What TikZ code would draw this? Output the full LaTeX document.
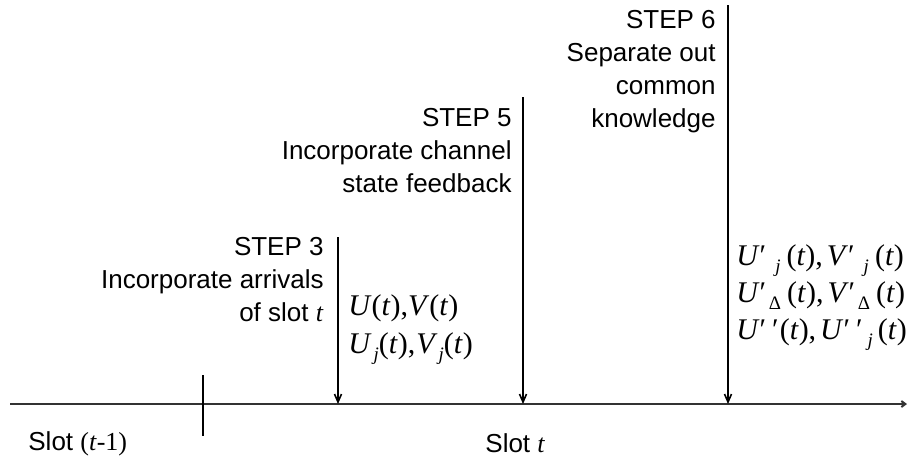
\documentclass[tikz,border=0pt]{standalone}
\usepackage{fontspec}
\setmainfont{Liberation Sans}
\newfontfamily\mathserif{Liberation Serif}
\usetikzlibrary{arrows.meta}
% italic variable letter
\newcommand\vi[1]{\textit{#1}}
% lowered small index
\newcommand\lowsub[1]{\raisebox{-0.5ex}{\fontsize{9.5}{9.5}\selectfont #1}}
\newcommand\pr{′}
\begin{document}
\begin{tikzpicture}[x=0.5pt,y=-0.5pt,
  steptext/.style={anchor=north east, inner sep=0pt, align=right,
    font=\fontsize{13}{16.5}\selectfont},
  vartext/.style={anchor=north west, inner sep=0pt, align=left,
    font=\mathserif\fontsize{15}{18.5}\selectfont},
  slotlabel/.style={anchor=base west, inner sep=0pt,
    font=\fontsize{13}{16}\selectfont},
  steparrow/.style={line width=0.8pt, -{Straight Barb[length=4pt,width=3.5pt]}},
  timeline/.style={line width=1pt, draw=black!80, -{Straight Barb[length=2pt,width=3pt]}},
  boundary/.style={line width=1pt}]
\path[use as bounding box] (0,0) rectangle (908,463);

% time axis and slot boundary
\coordinate (ax0) at (10,404);
\coordinate (ax1) at (907,404);
\draw[timeline] (ax0) -- (ax1);
\coordinate (bd0) at (203,375);
\coordinate (bd1) at (203,436);
\draw[boundary] (bd0) -- (bd1);

% slot labels
\node[slotlabel] (slotprev) at (28,450) {Slot {\mathserif(\vi{t}-1)}};
\node[slotlabel] (slotcur) at (485,452) {Slot {\mathserif\vi{t}}};

% step arrows
\coordinate (s3top) at (338,237);
\coordinate (s3end) at (338,404);
\coordinate (s5top) at (523,97);
\coordinate (s5end) at (523,404);
\coordinate (s6top) at (728,5);
\coordinate (s6end) at (728,404);
\draw[steparrow] (s3top) -- (s3end);
\draw[steparrow] (s5top) -- (s5end);
\draw[steparrow] (s6top) -- (s6end);

% step descriptions
\node[steptext] (step3) at (324,237)
  {STEP 3\\Incorporate arrivals\\of slot {\mathserif\vi{t}}};
\node[steptext] (step5) at (512,108)
  {STEP 5\\Incorporate channel\\state feedback};
\node[steptext] (step6) at (716,10)
  {STEP 6\\Separate out\\common\\knowledge};

% quantities updated at each step
\node[vartext, font=\mathserif\fontsize{15}{19}\selectfont] (vars3) at (348,294)
  {\vi{U}(\vi{t}),\vi{V}(\vi{t})\\
   \vi{U}\kern1pt\lowsub{\vi{j}}(\vi{t}),\kern0.5pt\vi{V}\kern0.5pt\lowsub{\vi{j}}(\vi{t})};
\node[vartext] (vars6) at (736,244)
  {\vi{U}\pr\kern4.5pt\lowsub{\vi{j}}\kern3pt(\vi{t}),\kern2pt\vi{V}\pr\kern4.5pt\lowsub{\vi{j}}\kern3pt(\vi{t})\\
   \vi{U}\pr\kern1.3pt\lowsub{Δ}\kern3pt(\vi{t}),\kern2pt\vi{V}\pr\kern1.3pt\lowsub{Δ}\kern3pt(\vi{t})\\
   \vi{U}\pr\kern3pt\pr\kern0.5pt(\vi{t}),\kern2pt\vi{U}\pr\kern3pt\pr\kern2.5pt\lowsub{\vi{j}}\kern2.5pt(\vi{t})};
\end{tikzpicture}
\end{document}
